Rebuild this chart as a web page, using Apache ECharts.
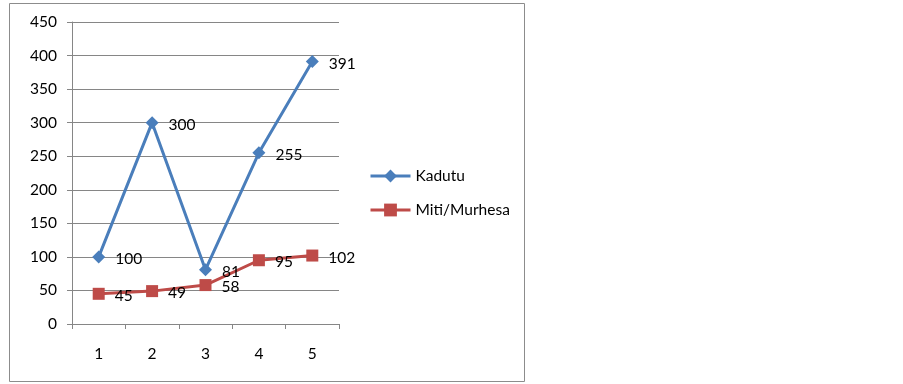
<!DOCTYPE html>
<html><head><meta charset="utf-8">
<script src="https://cdn.jsdelivr.net/npm/echarts@6/dist/echarts.min.js"></script>
<style>html,body{margin:0;padding:0;background:#fff}#c{width:903px;height:384px}</style>
</head><body><div id="c"></div>
<script>
const categories = ['1','2','3','4','5'];
const kadutu = [100, 300, 81, 255, 391];
const miti = [45, 49, 58, 95, 102];
const seriesNames = ['Kadutu', 'Miti/Murhesa'];

const FONT = 'Lato';
const chart = echarts.init(document.getElementById('c'));
const lbl = {show: true, position: 'right', distance: 10, color: '#000', fontFamily: FONT, fontSize: 15.5, offset: [0, 2]};
chart.setOption({
  animation: false,
  textStyle: {fontFamily: FONT},
  graphic: [{type: 'rect', shape: {x: 9.5, y: 3.5, width: 515, height: 378}, style: {fill: 'none', stroke: '#8c8c8c', lineWidth: 1}}],
  grid: {left: 72, right: 564, top: 22, bottom: 60},
  legend: {
    orient: 'vertical', left: 364, top: 163, itemGap: 18, itemWidth: 40, itemHeight: 16,
    lineStyle: {width: 3},
    textStyle: {fontFamily: FONT, fontSize: 15.5, color: '#000'},
    data: seriesNames
  },
  xAxis: {
    type: 'category', data: categories, boundaryGap: true,
    axisLine: {lineStyle: {color: '#868686'}},
    axisTick: {show: true, length: 5, lineStyle: {color: '#868686'}},
    axisLabel: {color: '#000', fontSize: 15.5, fontFamily: FONT, margin: 22}
  },
  yAxis: {
    type: 'value', min: 0, max: 450, interval: 50,
    axisLine: {show: true, lineStyle: {color: '#868686'}},
    axisTick: {show: true, length: 5, lineStyle: {color: '#868686'}},
    axisLabel: {color: '#000', fontSize: 15.5, fontFamily: FONT, margin: 15},
    splitLine: {lineStyle: {color: '#868686'}}
  },
  series: [
    {name: seriesNames[0], type: 'line', data: kadutu, symbol: 'diamond', symbolSize: 13,
     itemStyle: {color: '#4a7ebb'}, lineStyle: {width: 3, color: '#4a7ebb'}, label: lbl},
    {name: seriesNames[1], type: 'line', data: miti, symbol: 'rect', symbolSize: 12,
     itemStyle: {color: '#be4b48'}, lineStyle: {width: 3, color: '#be4b48'}, label: lbl}
  ]
});
</script></body></html>
